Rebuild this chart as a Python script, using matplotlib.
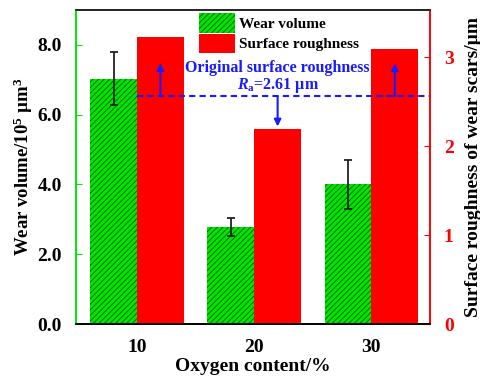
import matplotlib
matplotlib.use("Agg")
import matplotlib.pyplot as plt
from matplotlib.patches import Patch

plt.rcParams['font.family'] = ['Liberation Serif', 'DejaVu Serif']
plt.rcParams['font.weight'] = 'bold'
plt.rcParams['axes.labelweight'] = 'bold'
plt.rcParams['mathtext.fontset'] = 'custom'
plt.rcParams['mathtext.rm'] = 'Liberation Serif:bold'
plt.rcParams['mathtext.it'] = 'Liberation Serif:italic:bold'
plt.rcParams['mathtext.bf'] = 'Liberation Serif:bold'
plt.rcParams['hatch.linewidth'] = 0.8

# data
oxygen = [10, 20, 30]
wear_volume = [7.03, 2.77, 4.00]
wear_err = [0.75, 0.26, 0.70]
roughness = [3.22, 2.19, 3.09]
original_ra = 2.56
arrow_tips = [2.93, 2.22, 2.93]
wear_ticks = [0.0, 2.0, 4.0, 6.0, 8.0]
rough_ticks = [0, 1, 2, 3]

GREEN = '#00e600'
HATCH = '#007a00'
RED = '#ff0000'
BLUE = '#1a1aff'
bw = 4.0

fig = plt.figure(figsize=(4.81, 3.80), dpi=100)
ax = fig.add_axes([0.158, 0.147, 0.736, 0.827])
ax2 = ax.twinx()

gx = [x - bw / 2 for x in oxygen]
rx = [x + bw / 2 for x in oxygen]
ax.bar(gx, wear_volume, width=bw, color=GREEN, edgecolor=HATCH, hatch='//////', linewidth=0)
ax.errorbar(gx, wear_volume, yerr=wear_err, fmt='none', ecolor='#222222', elinewidth=1.3, capsize=3, capthick=1.3)
ax2.bar(rx, roughness, width=bw, color=RED, linewidth=0)

# original roughness reference line + arrows
ax2.plot([oxygen[0], 35], [original_ra, original_ra], color=BLUE, ls=(0, (3, 2)), lw=1.5)
for x, tip in zip(rx, arrow_tips):
    ax2.annotate('', xy=(x, tip), xytext=(x, original_ra),
                 arrowprops=dict(arrowstyle='-|>', color=BLUE, lw=1.5, mutation_scale=10, shrinkA=0, shrinkB=0))
ax2.text(22, 2.88, 'Original surface roughness', color=BLUE, fontsize=11.5, ha='center', va='center')
ax2.text(22, 2.68, r'$R_{\mathrm{a}}$=2.61 µm', color=BLUE, fontsize=11.5, ha='center', va='center')

ax.set_xlim(4.8, 35)
ax.set_ylim(0, 9)
ax2.set_ylim(0, 3.53)
ax.set_xticks(oxygen)
ax.set_xticklabels([str(o) for o in oxygen], fontsize=14)
ax.set_yticks(wear_ticks)
ax.set_yticklabels(['%.1f' % t for t in wear_ticks], fontsize=14)
ax2.set_yticks(rough_ticks)
ax2.set_yticklabels([str(t) for t in rough_ticks], fontsize=14, color=RED)

ax.tick_params(axis='x', length=0, pad=11)
ax.tick_params(axis='y', direction='in', length=4, color=GREEN, pad=10)
ax2.tick_params(axis='y', direction='in', length=4, color=RED, pad=10)

ax.set_xlabel('Oxygen content/%', fontsize=14, labelpad=1)
ax.set_ylabel(r'Wear volume/10$^5$ µm$^3$', fontsize=13.5, labelpad=2)
ax2.set_ylabel('Surface roughness of wear scars/µm', fontsize=14, labelpad=8)

for a in (ax, ax2):
    a.spines['left'].set_color(GREEN)
    a.spines['right'].set_color(RED)
    a.spines['top'].set_color('#222222')
    a.spines['bottom'].set_color('black')
    for s in a.spines.values():
        s.set_linewidth(1.2)

handles = [Patch(facecolor=GREEN, edgecolor=HATCH, hatch='//////', linewidth=0, label='Wear volume'),
           Patch(facecolor=RED, linewidth=0, label='Surface roughness')]
ax2.legend(handles=handles, loc='upper left', bbox_to_anchor=(0.325, 1.016), frameon=False,
           fontsize=11, handlelength=2.3, handleheight=1.6, handletextpad=0.3,
           labelspacing=0.05, borderpad=0.05)

fig.savefig('out.png', dpi=100)
